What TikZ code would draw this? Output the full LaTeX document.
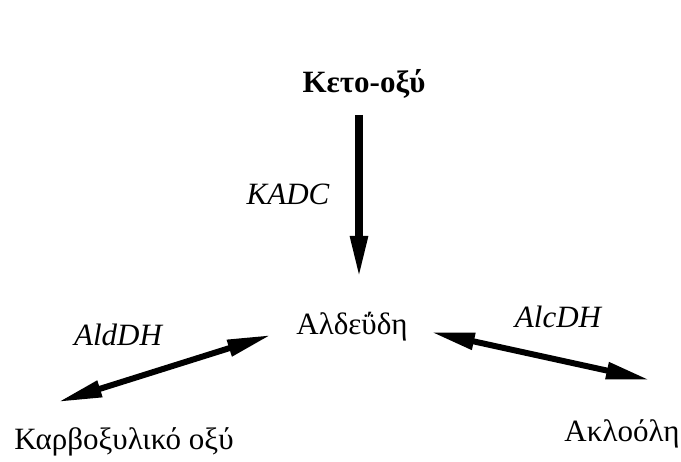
\documentclass[tikz,border=0pt]{standalone}
\usepackage{fontspec}
\setmainfont{Liberation Serif}
\usetikzlibrary{arrows.meta}
\tikzset{
  compound/.style={font=\fontsize{31}{36}\selectfont, inner sep=0pt, anchor=base},
  enzyme/.style={font=\fontsize{31}{36}\selectfont\itshape, inner sep=0pt, anchor=base},
  onearrow/.style={-{Triangle[length=44pt,width=16pt]}, line width=8pt},
  twoarrow/.style={{Triangle[length=44pt,width=16pt]}-{Triangle[length=44pt,width=16pt]}, line width=6pt}
}
\begin{document}
\begin{tikzpicture}[x=1pt,y=-1pt]
  \useasboundingbox (0,0) rectangle (681,462);
  % Compounds
  \node[compound, font=\fontsize{31}{36}\selectfont\bfseries] (keto) at (364,93) {Κετο-οξύ};
  \node[compound] (ald) at (352,335) {Αλδεΰδη};
  \node[compound] (carb) at (124,450) {Καρβοξυλικό οξύ};
  \node[compound] (alc) at (622,442) {Ακλοόλη};
  
  % Enzymes
  \node[enzyme] (kadc) at (288,205) {KADC};
  \node[enzyme] (aldh) at (118,346) {AldDH};
  \node[enzyme] (alcdh) at (558,328) {AlcDH};
  
  % Arrows
  \draw[onearrow] ([shift={(-5,22)}]keto.base) -- ([shift={(7,-55)}]ald.base);
  \draw[twoarrow] ([shift={(-25,0)}]ald.base west) -- ([shift={(-66,-48)}]carb.base);
  \draw[twoarrow] ([shift={(23,-3)}]ald.base east) -- ([shift={(28,-62)}]alc.base);
\end{tikzpicture}
\end{document}
